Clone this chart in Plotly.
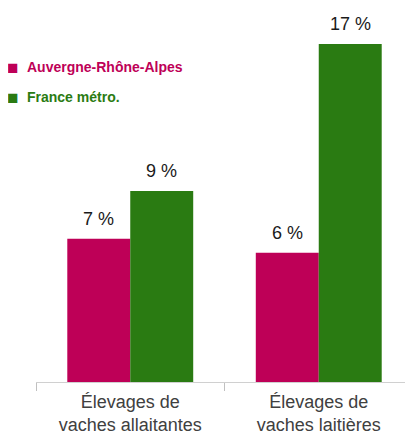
import plotly.graph_objects as go

categories = ["Élevages de<br>vaches allaitantes", "Élevages de<br>vaches laitières"]
series_names = ["Auvergne-Rhône-Alpes", "France métro."]
ara_values = [7.2, 6.5]
france_values = [9.6, 17.0]
ara_labels = ["7 %", "6 %"]
france_labels = ["9 %", "17 %"]

pink = "#BE0057"
green = "#2A7B12"

fig = go.Figure()

fig.add_trace(go.Bar(
    x=categories,
    y=ara_values,
    name=series_names[0],
    marker=dict(color=pink, line=dict(width=0)),
))

fig.add_trace(go.Bar(
    x=categories,
    y=france_values,
    name=series_names[1],
    marker=dict(color=green, line=dict(width=0)),
))

# etiquettes des barres
for cat, val, lab in zip(categories, ara_values, ara_labels):
    fig.add_annotation(x=cat, y=val, text=lab, showarrow=False, xshift=-31.5,
                       yanchor="middle", yshift=20,
                       font=dict(size=18, color="#1a1a1a"))
for cat, val, lab in zip(categories, france_values, france_labels):
    fig.add_annotation(x=cat, y=val, text=lab, showarrow=False, xshift=31.5,
                       yanchor="middle", yshift=20,
                       font=dict(size=18, color="#1a1a1a"))

# legende
for name, color, y in zip(series_names, [pink, green], [0.841, 0.761]):
    fig.add_annotation(
        xref="paper", yref="paper", x=-0.0424, y=y,
        xanchor="right", yanchor="middle", showarrow=False,
        text="■", font=dict(size=19, color=color)
    )
    fig.add_annotation(
        xref="paper", yref="paper", x=-0.03, y=y,
        xanchor="left", yanchor="middle", showarrow=False,
        text="<b>" + name + "</b>",
        font=dict(size=14, color=color)
    )

fig.update_layout(
    width=405,
    height=427,
    margin=dict(l=28, r=0, t=0, b=53),
    plot_bgcolor="white",
    paper_bgcolor="white",
    font=dict(family="Arial, Liberation Sans, sans-serif", color="#404040"),
    barmode="group",
    bargap=0.332,
    bargroupgap=0,
    showlegend=False,
    xaxis=dict(
        showline=True, linecolor="#d0d0d0", linewidth=1,
        ticks="outside", tickson="boundaries", ticklen=8, tickcolor="#c0c0c0",
        tickfont=dict(size=18, color="#404040"),
        ticklabelstandoff=3,
        automargin=False,
        showgrid=False
    ),
    yaxis=dict(
        range=[0, 18.81], visible=False, showgrid=False, zeroline=False
    ),
)

fig.write_html("out.html")
